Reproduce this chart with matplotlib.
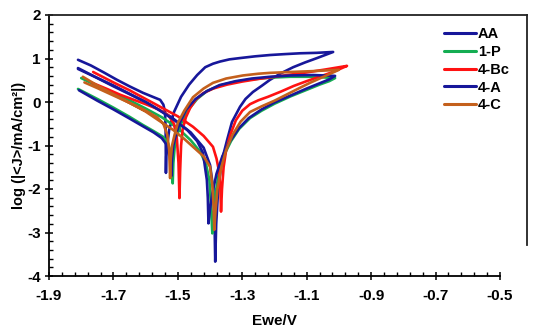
import numpy as np
import matplotlib
matplotlib.use("Agg")
import matplotlib.pyplot as plt
from matplotlib.ticker import FixedLocator, FormatStrFormatter
from matplotlib.lines import Line2D

plt.rcParams['font.family'] = ['Liberation Sans', 'DejaVu Sans']
plt.rcParams['font.weight'] = 'bold'

# each series is one loop: cathodic -> dip 1 -> anodic end -> reverse -> dip 2 -> back left
aa_x = [-1.81, -1.77, -1.73, -1.689, -1.65, -1.608, -1.575, -1.555, -1.545, -1.54, -1.538, -1.537,
        -1.536, -1.533, -1.527, -1.512, -1.49, -1.465, -1.44, -1.415, -1.391, -1.369, -1.34, -1.307,
        -1.26, -1.214, -1.17, -1.12, -1.07, -1.018,
        -1.068, -1.105, -1.142, -1.18, -1.214, -1.24, -1.267, -1.29, -1.307, -1.332, -1.347, -1.363,
        -1.375, -1.381, -1.384,
        -1.386, -1.39, -1.40, -1.42, -1.46, -1.52, -1.60, -1.70, -1.81]
aa_y = [0.97, 0.84, 0.68, 0.51, 0.36, 0.21, 0.11, 0.05, -0.06, -0.22, -0.6, -1.63,
        -1.25, -1.0, -0.64, -0.23, 0.12, 0.40, 0.62, 0.80, 0.88, 0.93, 0.98, 1.01,
        1.05, 1.08, 1.10, 1.12, 1.13, 1.15,
        1.01, 0.91, 0.80, 0.66, 0.51, 0.37, 0.23, 0.07, -0.11, -0.46, -0.87, -1.33,
        -2.02, -2.8, -3.67,
        -2.8, -2.0, -1.45, -1.05, -0.70, -0.35, 0.0, 0.38, 0.76]

p1_x = [-1.81, -1.75, -1.70, -1.65, -1.608, -1.575, -1.546, -1.53, -1.522, -1.516,
        -1.514, -1.51, -1.502, -1.49, -1.47, -1.44, -1.41, -1.37, -1.32, -1.27, -1.214, -1.15, -1.08, -1.012,
        -1.03, -1.06, -1.10, -1.15, -1.20, -1.24, -1.276, -1.31, -1.335, -1.355, -1.372, -1.383, -1.389, -1.393,
        -1.397, -1.402, -1.412, -1.43, -1.46, -1.50, -1.55, -1.60, -1.65, -1.70, -1.75, -1.80]
p1_y = [0.30, 0.07, -0.13, -0.34, -0.53, -0.67, -0.80, -0.95, -1.2, -1.87,
        -1.4, -1.05, -0.75, -0.5, -0.2, 0.07, 0.25, 0.38, 0.47, 0.52, 0.56, 0.58, 0.58, 0.55,
        0.48, 0.40, 0.28, 0.13, -0.04, -0.2, -0.37, -0.62, -0.9, -1.2, -1.6, -2.1, -2.6, -3.02,
        -2.4, -1.8, -1.45, -1.15, -0.88, -0.6, -0.35, -0.15, 0.04, 0.2, 0.37, 0.55]

bc_x = [-1.766, -1.72, -1.68, -1.64, -1.60, -1.56, -1.53, -1.512, -1.503, -1.498, -1.495,
        -1.493, -1.49, -1.485, -1.475, -1.462, -1.445, -1.422, -1.39, -1.347, -1.30, -1.25, -1.20,
        -1.15, -1.10, -1.04, -0.975,
        -1.00, -1.03, -1.065, -1.10, -1.14, -1.18, -1.22, -1.25, -1.276, -1.30, -1.32, -1.337,
        -1.35, -1.358, -1.363, -1.366,
        -1.368, -1.372, -1.38, -1.391, -1.42, -1.453, -1.50, -1.555, -1.60, -1.65, -1.70, -1.763]
bc_y = [0.44, 0.30, 0.17, 0.06, -0.05, -0.17, -0.3, -0.5, -0.85, -1.4, -2.21,
        -1.6, -1.0, -0.62, -0.35, -0.14, 0.05, 0.2, 0.31, 0.40, 0.47, 0.53, 0.58,
        0.63, 0.68, 0.75, 0.83,
        0.75, 0.66, 0.57, 0.48, 0.37, 0.24, 0.12, 0.04, -0.05, -0.2, -0.42, -0.75,
        -1.1, -1.5, -2.0, -2.52,
        -2.0, -1.6, -1.3, -1.03, -0.78, -0.57, -0.33, -0.11, 0.07, 0.27, 0.45, 0.69]

a4_x = [-1.807, -1.75, -1.70, -1.65, -1.608, -1.575, -1.55, -1.535, -1.525, -1.52,
        -1.518, -1.514, -1.505, -1.493, -1.475, -1.445, -1.41, -1.37, -1.32, -1.27, -1.214, -1.15,
        -1.08, -1.012,
        -1.03, -1.06, -1.10, -1.15, -1.20, -1.24, -1.28, -1.31, -1.34, -1.362, -1.38, -1.393, -1.40,
        -1.405,
        -1.407, -1.41, -1.422, -1.44, -1.47, -1.51, -1.555, -1.60, -1.65, -1.70, -1.75, -1.81]
a4_y = [0.27, 0.03, -0.17, -0.38, -0.56, -0.70, -0.83, -0.98, -1.2, -1.7,
        -1.3, -1.0, -0.72, -0.46, -0.18, 0.07, 0.25, 0.39, 0.48, 0.54, 0.58, 0.61,
        0.62, 0.60,
        0.52, 0.43, 0.31, 0.15, -0.01, -0.17, -0.37, -0.6, -0.92, -1.25, -1.65, -2.1, -2.45,
        -2.79,
        -2.2, -1.79, -1.17, -0.90, -0.65, -0.42, -0.2, 0.0, 0.18, 0.36, 0.55, 0.78]

c4_x = [-1.79, -1.75, -1.70, -1.65, -1.60, -1.565, -1.545, -1.533, -1.527, -1.524,
        -1.522, -1.518, -1.51, -1.50, -1.48, -1.453, -1.42, -1.391, -1.35, -1.298, -1.25, -1.214,
        -1.15, -1.08, -1.0,
        -1.03, -1.06, -1.09, -1.12, -1.16, -1.20, -1.24, -1.276, -1.305, -1.33, -1.35, -1.365,
        -1.377, -1.383, -1.387,
        -1.389, -1.393, -1.40, -1.42, -1.45, -1.48, -1.515, -1.56, -1.60, -1.65, -1.70, -1.75, -1.795]
c4_y = [0.45, 0.32, 0.15, -0.02, -0.2, -0.35, -0.5, -0.75, -1.1, -1.75,
        -1.3, -1.0, -0.75, -0.48, -0.2, 0.11, 0.31, 0.44, 0.54, 0.61, 0.65, 0.67,
        0.69, 0.71, 0.74,
        0.64, 0.54, 0.44, 0.33, 0.18, 0.03, -0.1, -0.23, -0.45, -0.75, -1.1, -1.5,
        -2.0, -2.5, -2.94,
        -2.4, -1.9, -1.49, -1.25, -1.05, -0.85, -0.64, -0.42, -0.22, -0.02, 0.18, 0.38, 0.58]

labels = ['AA', '1-P', '4-Bc', '4-A', '4-C']
colors = ['#17179a', '#14ad52', '#ff1212', '#17179a', '#c4601c']
series = [(aa_x, aa_y), (p1_x, p1_y), (bc_x, bc_y), (a4_x, a4_y), (c4_x, c4_y)]

x_major = np.round(np.arange(-1.9, -0.49, 0.2), 2)
x_minor = np.round(np.arange(-1.9, -0.49, 0.04), 2)

W, H = 550, 329
fig = plt.figure(figsize=(5.5, 3.29), dpi=100)
ax = fig.add_axes([49 / W, 1 - 276 / H, 451 / W, 261 / H])

for (x, y), lab, col in zip(series, labels, colors):
    ax.plot(x, y, color=col, lw=1.9, label=lab, solid_joinstyle='round', solid_capstyle='round')

ax.set_xlim(-1.9, -0.5)
ax.set_ylim(-4, 2)
ax.xaxis.set_major_locator(FixedLocator(x_major))
ax.xaxis.set_minor_locator(FixedLocator(x_minor))
ax.yaxis.set_major_locator(FixedLocator(np.arange(-4, 3, 1)))
ax.yaxis.set_minor_locator(FixedLocator(np.round(np.arange(-4, 2.01, 0.2), 1)))
ax.xaxis.set_major_formatter(FormatStrFormatter('%.1f'))
ax.yaxis.set_major_formatter(FormatStrFormatter('%d'))
ax.tick_params(which='major', direction='inout', length=6, width=1.1, labelsize=11)
ax.tick_params(axis='x', which='major', pad=6)
ax.tick_params(axis='y', which='major', pad=3)
ax.tick_params(which='minor', direction='in', length=3, width=1.0)
for side in ['top', 'right']:
    ax.spines[side].set_visible(False)
for side in ['left', 'bottom']:
    ax.spines[side].set_linewidth(1.3)

# plot-area border: top and right edges run past the x axis end
fig.add_artist(Line2D([49 / W, 527 / W], [1 - 15 / H, 1 - 15 / H], color='#222222', lw=1.3))
fig.add_artist(Line2D([527 / W, 527 / W], [1 - 15 / H, 1 - 245 / H], color='#222222', lw=1.3))

ax.set_xlabel('Ewe/V', fontsize=11, fontweight='bold', labelpad=8)
ax.set_ylabel('log (|<J>/mA/cm²|)', fontsize=10.5, fontweight='bold', labelpad=1)

leg = ax.legend(loc='upper left', bbox_to_anchor=(0.875, 0.955), frameon=False, fontsize=10.5,
                handlelength=2.2, handletextpad=0.15, labelspacing=0.27, borderpad=0,
                borderaxespad=0)
for line in leg.get_lines():
    line.set_linewidth(2.2)

fig.savefig('out.png', dpi=100)
